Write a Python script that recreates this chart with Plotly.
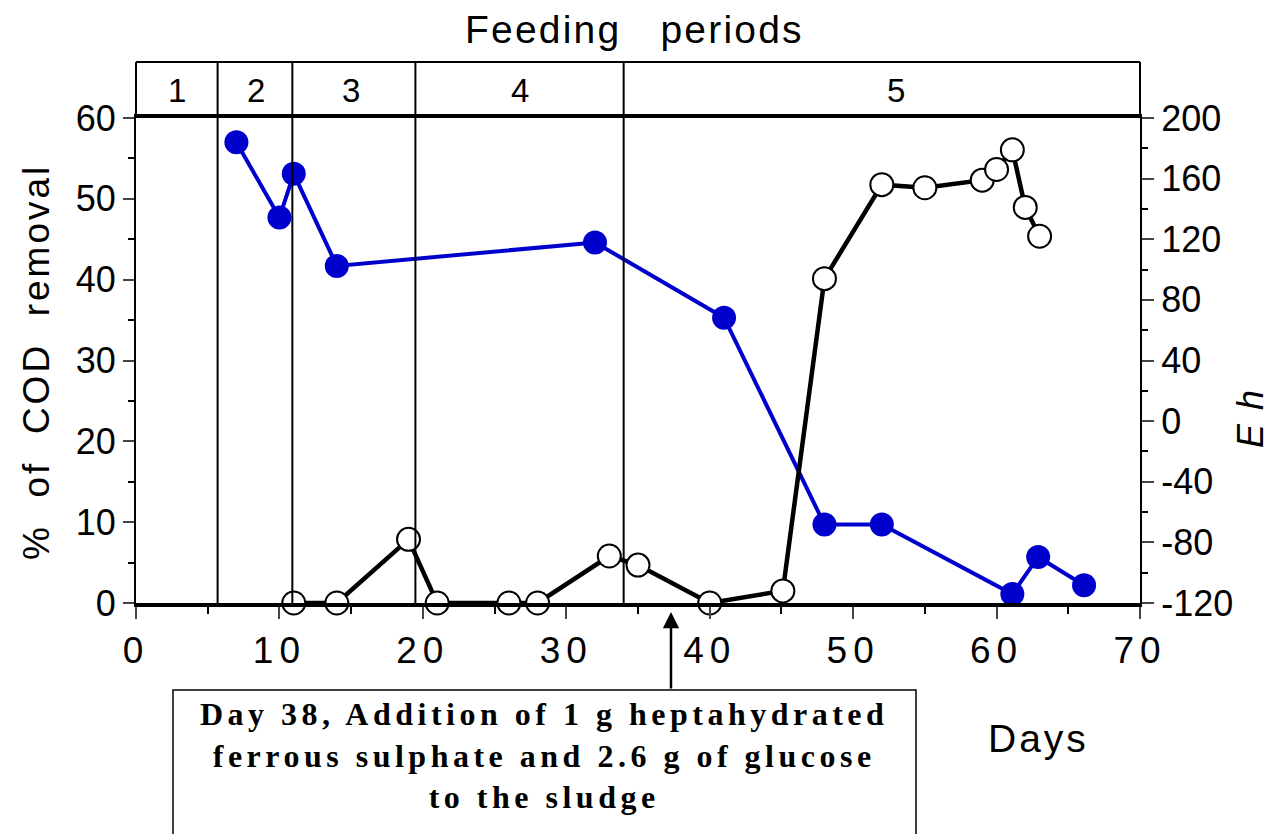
import plotly.graph_objects as go

# ---- data ----
cod_days = [7, 10, 11, 14, 32, 41, 48, 52, 61.1, 62.9, 66.1]
cod_removal = [57.0, 47.7, 53.1, 41.7, 44.6, 35.3, 9.7, 9.7, 1.1, 5.7, 2.2]

eh_days = [11, 14, 19, 21, 26, 28, 33, 35, 40, 45.1, 48, 52, 55, 59, 60, 61.1, 62, 63]
eh_values = [-120, -120, -78, -120, -120, -120, -89, -95, -120, -112, 94, 156, 154, 159, 166, 179, 141, 122]

day_tickvals = [0, 10, 20, 30, 40, 50, 60, 70]
day_ticktext = ["0", "10", "20", "30", "40", "50", "60", "70"]
eh_tickvals = [-120, -80, -40, 0, 40, 80, 120, 160, 200]
eh_ticktext = ["-120", "-80", "-40", "0", "40", "80", "120", "160", "200"]

period_bounds = [5.69, 10.9, 19.48, 34.0]
period_names = ["1", "2", "3", "4", "5"]
period_label_x = [2.85, 8.4, 15.0, 26.8, 53.0]

arrow_day = 37.3
note_lines = ["Day 38, Addition of 1 g heptahydrated",
              "ferrous sulphate and 2.6 g of glucose",
              "to the sludge"]

SANS = "Liberation Sans, Arial, sans-serif"
SERIF = "Liberation Serif, Times New Roman, serif"
BLUE = "#0000CC"

# plot area in figure pixels
PL, PT, PW, PH = 128, 110, 1004, 485


def spaced(t, px):
    return '<span style="letter-spacing:%spx">%s</span>' % (px, t)


def px_x(x):
    return (x - PL) / PW


def px_y(y):
    return (PT + PH - y) / PH


fig = go.Figure()

fig.add_trace(go.Scatter(
    x=eh_days, y=eh_values, yaxis="y2", mode="lines+markers",
    line=dict(color="black", width=4.5),
    marker=dict(size=23, color="white", line=dict(color="black", width=2)),
    cliponaxis=False, showlegend=False))

fig.add_trace(go.Scatter(
    x=cod_days, y=cod_removal, mode="lines+markers",
    line=dict(color=BLUE, width=4),
    marker=dict(size=24, color=BLUE),
    cliponaxis=False, showlegend=False))

box_top = 1 + 56 / PH

shapes = []
for b in period_bounds:
    shapes.append(dict(type="line", xref="x", yref="paper", x0=b, x1=b, y0=0, y1=box_top,
                       line=dict(color="black", width=2)))
shapes.append(dict(type="line", xref="paper", yref="paper", x0=0, x1=1, y0=box_top, y1=box_top,
                   line=dict(color="black", width=2)))
shapes.append(dict(type="line", xref="paper", yref="paper", x0=0, x1=0, y0=1, y1=box_top,
                   line=dict(color="black", width=2)))
shapes.append(dict(type="line", xref="paper", yref="paper", x0=1, x1=1, y0=1, y1=box_top,
                   line=dict(color="black", width=2)))
# annotation box
shapes.append(dict(type="rect", xref="paper", yref="paper",
                   x0=px_x(165), x1=px_x(908),
                   y0=px_y(840), y1=px_y(682),
                   line=dict(color="black", width=1.5), fillcolor="white", layer="below"))

annotations = []
for name, xp in zip(period_names, period_label_x):
    annotations.append(dict(x=xp, y=1 + 28 / PH, xref="x", yref="paper", text=name,
                            xanchor="center", yanchor="middle",
                            showarrow=False, font=dict(family=SANS, size=33, color="black")))

annotations.append(dict(x=px_x(626), y=px_y(22), xref="paper", yref="paper",
                        text=spaced("Feeding&nbsp;&nbsp;&nbsp;periods", 2.2), showarrow=False,
                        xanchor="center", yanchor="middle",
                        font=dict(family=SANS, size=39, color="black")))
annotations.append(dict(x=px_x(1030), y=px_y(730), xref="paper", yref="paper",
                        text=spaced("Days", 3), showarrow=False,
                        xanchor="center", yanchor="middle",
                        font=dict(family=SANS, size=39, color="black")))
annotations.append(dict(x=px_x(28), y=px_y(354), xref="paper", yref="paper",
                        text=spaced("%&nbsp;&nbsp;of&nbsp;&nbsp;COD&nbsp;&nbsp;removal", 3),
                        showarrow=False, textangle=-90,
                        xanchor="center", yanchor="middle",
                        font=dict(family=SANS, size=37, color="black")))
annotations.append(dict(x=px_x(1242), y=px_y(410), xref="paper", yref="paper",
                        text="<i>" + spaced("E h", 2) + "</i>", showarrow=False, textangle=-90,
                        xanchor="center", yanchor="middle",
                        font=dict(family=SANS, size=36, color="black")))
annotations.append(dict(x=px_x(536), y=px_y(747), xref="paper", yref="paper",
                        text="<b>" + spaced("<br>".join(note_lines), 4.5) + "</b>",
                        showarrow=False, align="center",
                        xanchor="center", yanchor="middle",
                        font=dict(family=SERIF, size=32, color="black")))
annotations.append(dict(x=arrow_day, y=px_y(604), xref="x", yref="paper", text="",
                        showarrow=True, ax=0, ay=78, arrowhead=2, arrowsize=1.3, arrowwidth=2.5,
                        arrowcolor="black"))

fig.update_layout(
    width=1265, height=826, autosize=False,
    margin=dict(l=PL, r=1265 - PL - PW, t=PT, b=826 - PT - PH),
    paper_bgcolor="white", plot_bgcolor="white",
    shapes=shapes, annotations=annotations,
    xaxis=dict(range=[0, 70], tickvals=day_tickvals,
               ticktext=[spaced(t, 6) for t in day_ticktext],
               ticks="outside", ticklen=12, tickwidth=2,
               showline=True, linewidth=3.5, linecolor="black", mirror=True,
               showgrid=False, zeroline=False, automargin=False,
               minor=dict(dtick=5, ticks="outside", ticklen=7, tickwidth=2, tickcolor="black"),
               tickfont=dict(family=SANS, size=37, color="black")),
    yaxis=dict(range=[0, 60], dtick=10, ticks="outside", ticklen=11, tickwidth=2,
               showline=True, linewidth=2, linecolor="black",
               showgrid=False, zeroline=False, automargin=False,
               minor=dict(dtick=5, ticks="outside", ticklen=6, tickwidth=2, tickcolor="black"),
               tickfont=dict(family=SANS, size=36, color="black")),
    yaxis2=dict(range=[-120, 200], tickvals=eh_tickvals, ticktext=eh_ticktext,
                overlaying="y", side="right",
                ticks="outside", ticklen=12, tickwidth=2,
                showline=True, linewidth=2, linecolor="black",
                showgrid=False, zeroline=False, automargin=False,
                minor=dict(dtick=20, ticks="outside", ticklen=6, tickwidth=2, tickcolor="black"),
                tickfont=dict(family=SANS, size=36, color="black")),
)

fig.write_html("out.html")
